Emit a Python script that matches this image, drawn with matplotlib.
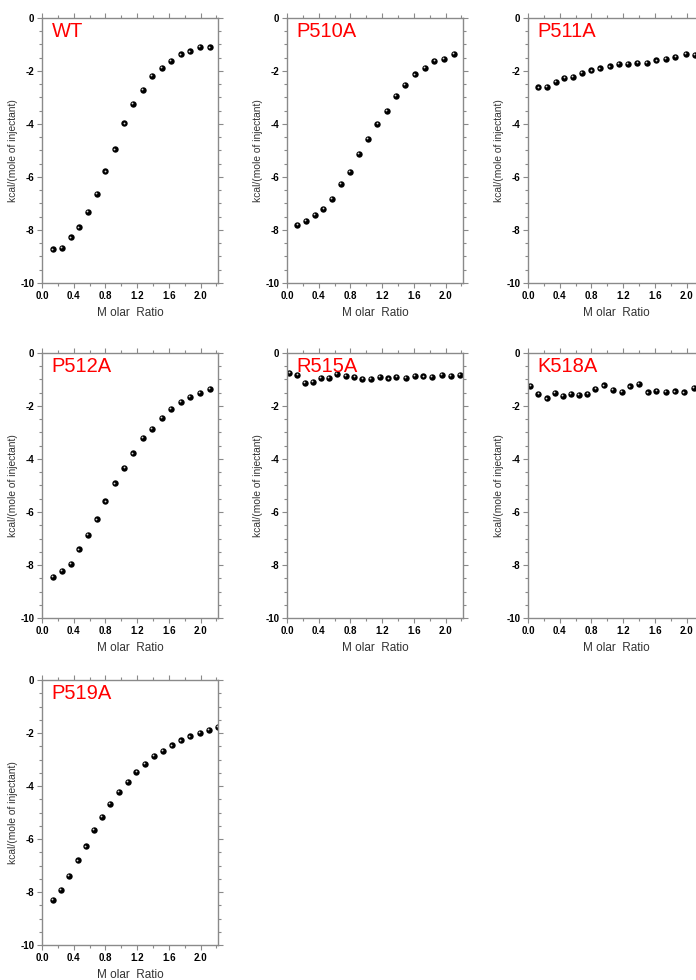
import matplotlib
matplotlib.use('Agg')
from matplotlib import pyplot as plt
from matplotlib.ticker import MultipleLocator
from matplotlib.transforms import offset_copy

plt.rcParams['font.family'] = ['Liberation Sans', 'DejaVu Sans']

names = ['WT', 'P510A', 'P511A', 'P512A', 'R515A', 'K518A', 'P519A']

wt_x = [0.14, 0.25, 0.36, 0.47, 0.58, 0.69, 0.80, 0.92, 1.04, 1.15, 1.27, 1.39,
        1.51, 1.63, 1.75, 1.87, 1.99, 2.12]
wt_y = [-8.73, -8.67, -8.28, -7.90, -7.31, -6.63, -5.79, -4.96, -3.98, -3.25,
        -2.70, -2.19, -1.88, -1.61, -1.37, -1.26, -1.09, -1.11]

p510a_x = [0.13, 0.24, 0.35, 0.46, 0.57, 0.68, 0.79, 0.91, 1.02, 1.14, 1.26,
           1.37, 1.49, 1.61, 1.74, 1.86, 1.98, 2.11]
p510a_y = [-7.80, -7.66, -7.42, -7.19, -6.83, -6.25, -5.81, -5.13, -4.56, -4.00,
           -3.50, -2.95, -2.51, -2.13, -1.89, -1.62, -1.54, -1.35]

p511a_x = [0.13, 0.24, 0.35, 0.46, 0.57, 0.68, 0.80, 0.91, 1.03, 1.15, 1.26,
           1.38, 1.50, 1.62, 1.74, 1.86, 1.99, 2.11]
p511a_y = [-2.62, -2.61, -2.40, -2.27, -2.22, -2.07, -1.98, -1.90, -1.83, -1.74,
           -1.74, -1.69, -1.69, -1.60, -1.54, -1.46, -1.36, -1.40]

p512a_x = [0.14, 0.25, 0.36, 0.47, 0.58, 0.69, 0.80, 0.92, 1.04, 1.15, 1.27,
           1.39, 1.51, 1.63, 1.75, 1.87, 1.99, 2.12]
p512a_y = [-8.46, -8.22, -7.95, -7.41, -6.86, -6.28, -5.60, -4.92, -4.35, -3.79,
           -3.20, -2.86, -2.44, -2.12, -1.85, -1.65, -1.51, -1.36]

r515a_x = [0.03, 0.13, 0.23, 0.33, 0.43, 0.53, 0.63, 0.74, 0.85, 0.95, 1.06,
           1.17, 1.28, 1.38, 1.50, 1.61, 1.72, 1.83, 1.95, 2.07, 2.18]
r515a_y = [-0.74, -0.82, -1.12, -1.10, -0.93, -0.94, -0.79, -0.87, -0.91, -0.99,
           -0.98, -0.91, -0.96, -0.91, -0.93, -0.86, -0.88, -0.91, -0.83, -0.87, -0.82]

k518a_x = [0.03, 0.13, 0.24, 0.34, 0.44, 0.54, 0.64, 0.75, 0.85, 0.96, 1.07,
           1.18, 1.29, 1.40, 1.51, 1.62, 1.74, 1.85, 1.97, 2.09]
k518a_y = [-1.23, -1.55, -1.71, -1.52, -1.62, -1.54, -1.59, -1.55, -1.35, -1.22,
           -1.39, -1.47, -1.26, -1.16, -1.49, -1.42, -1.47, -1.45, -1.49, -1.31]

p519a_x = [0.135, 0.24, 0.34, 0.45, 0.55, 0.65, 0.76, 0.86, 0.97, 1.08, 1.19,
           1.30, 1.41, 1.53, 1.64, 1.75, 1.87, 1.99, 2.11, 2.22]
p519a_y = [-8.30, -7.91, -7.38, -6.81, -6.28, -5.67, -5.18, -4.68, -4.23, -3.84,
           -3.47, -3.16, -2.87, -2.67, -2.47, -2.28, -2.13, -2.00, -1.89, -1.77]

series = [(wt_x, wt_y), (p510a_x, p510a_y), (p511a_x, p511a_y),
          (p512a_x, p512a_y), (r515a_x, r515a_y), (k518a_x, k518a_y),
          (p519a_x, p519a_y)]

W, H = 696, 980
fig = plt.figure(figsize=(W / 100, H / 100), dpi=100)

col_left = [42, 287, 528]
row_top = [18, 353, 680]
aw, ah = 176, 265
spine_col = '#8a8a8a'

for i, (name, (xs, ys)) in enumerate(zip(names, series)):
    r, c = divmod(i, 3)
    ax = fig.add_axes([col_left[c] / W, 1 - (row_top[r] + ah) / H, aw / W, ah / H])
    ax.set_xlim(0, 2.22)
    ax.set_ylim(-10, 0)
    ax.xaxis.set_major_locator(MultipleLocator(0.4))
    ax.xaxis.set_minor_locator(MultipleLocator(0.2))
    ax.yaxis.set_major_locator(MultipleLocator(2))
    ax.yaxis.set_minor_locator(MultipleLocator(0.5))
    ax.xaxis.set_major_formatter(plt.FuncFormatter(lambda v, p: '%.1f' % v))
    ax.yaxis.set_major_formatter(plt.FuncFormatter(lambda v, p: '%d' % round(v)))
    for s in ax.spines.values():
        s.set_color(spine_col)
        s.set_linewidth(1.0)
    ax.tick_params(which='both', direction='out', top=True, right=True,
                   color=spine_col, width=0.8)
    ax.tick_params(which='major', length=3.5, labelsize=7, pad=2)
    ax.tick_params(which='minor', length=2)
    for lab in ax.get_xticklabels() + ax.get_yticklabels():
        lab.set_fontweight('bold')
    ax.set_xlabel('M olar  Ratio', fontsize=8.5, color='#333333', labelpad=4.5)
    ax.set_ylabel('kcal/(mole of injectant)', fontsize=7.4, color='#333333',
                  labelpad=2)

    # shiny black spheres: dark disc plus small highlight
    ax.plot(xs, ys, 'o', color='black', markersize=4.6, markeredgewidth=0)
    hl = offset_copy(ax.transData, fig=fig, x=-0.8, y=0.8, units='dots')
    ax.plot(xs, ys, 'o', color='#d8d8d8', markersize=1.3, markeredgewidth=0,
            transform=hl)

    ax.text(0.055, 0.985, name, transform=ax.transAxes, color='red',
            fontsize=14.5, va='top', ha='left')

fig.savefig('out.png', dpi=100)
